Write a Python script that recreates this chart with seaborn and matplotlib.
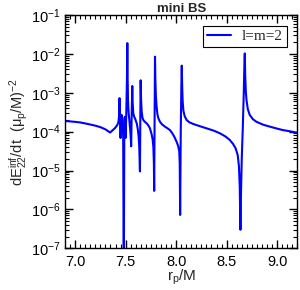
import math

import matplotlib
matplotlib.use("Agg")
import matplotlib.pyplot as plt
import matplotlib.ticker as mticker
import pandas as pd
import seaborn as sns

# orbital radius r_p/M and flux dE_22/dt
r_p = [
    6.901, 6.950, 7.000, 7.050, 7.100, 7.150, 7.200, 7.250, 7.300, 7.346,
    7.370, 7.395, 7.415, 7.428, 7.435, 7.440, 7.445, 7.450, 7.455, 7.461,
    7.468, 7.476, 7.482, 7.487, 7.492, 7.496, 7.500, 7.506, 7.513, 7.517,
    7.520, 7.524, 7.530, 7.537, 7.546, 7.551, 7.555, 7.560, 7.566, 7.569,
    7.576, 7.585, 7.593, 7.610, 7.620, 7.628, 7.635, 7.642, 7.646, 7.649,
    7.653, 7.659, 7.667, 7.675, 7.690, 7.708, 7.725, 7.741, 7.758, 7.768,
    7.775, 7.780, 7.783, 7.787, 7.791, 7.795, 7.800, 7.807, 7.815, 7.825,
    7.840, 7.860, 7.889, 7.915, 7.939, 7.960, 7.980, 8.005, 8.020, 8.031,
    8.036, 8.040, 8.046, 8.052, 8.056, 8.060, 8.065, 8.072, 8.085, 8.104,
    8.130, 8.169, 8.230, 8.301, 8.370, 8.433, 8.490, 8.532, 8.565, 8.590,
    8.610, 8.622, 8.630, 8.637, 8.643, 8.650, 8.660, 8.670, 8.675, 8.680,
    8.684, 8.690, 8.697, 8.710, 8.729, 8.760, 8.795, 8.860, 8.927, 9.000,
    9.058, 9.130, 9.197,
]
flux = [
    1.88e-4, 1.84e-4, 1.79e-4, 1.73e-4, 1.63e-4, 1.53e-4, 1.43e-4, 1.31e-4, 1.15e-4, 9.5e-5,
    1.08e-4, 1.24e-4, 1.45e-4, 1.7e-4, 2.5e-4, 7.3e-4, 1.6e-4, 6.9e-5, 1.5e-4, 2.7e-4,
    2.0e-4, 8.0e-5, 1.0e-8, 1.0e-4, 2.4e-4, 1.4e-4, 6.9e-5, 2.5e-4, 2.0e-3, 1.9e-2,
    2.5e-3, 6.0e-4, 3.0e-4, 2.0e-4, 1.1e-4, 7.0e-5, 4.2e-5, 2.5e-4, 1.5e-3, 6.0e-4,
    3.0e-4, 2.4e-4, 2.2e-4, 1.64e-4, 1.2e-4, 8.0e-5, 4.1e-5, 9.5e-6, 3.0e-4, 2.1e-3,
    7.0e-4, 3.3e-4, 2.3e-4, 2.0e-4, 1.8e-4, 1.64e-4, 1.45e-4, 1.22e-4, 8.5e-5, 6.2e-5,
    4.0e-5, 1.5e-5, 3.0e-6, 2.0e-4, 8.5e-3, 2.0e-3, 8.0e-4, 4.4e-4, 2.8e-4, 2.2e-4,
    1.8e-4, 1.55e-4, 1.35e-4, 1.22e-4, 1.1e-4, 9.3e-5, 7.6e-5, 5.5e-5, 4.3e-5, 3.2e-5,
    1.5e-5, 7.2e-7, 1.0e-4, 1.5e-3, 5.0e-3, 1.5e-3, 6.0e-4, 3.5e-4, 2.5e-4, 2.0e-4,
    1.75e-4, 1.58e-4, 1.4e-4, 1.22e-4, 1.07e-4, 9.1e-5, 7.5e-5, 6.1e-5, 4.8e-5, 3.7e-5,
    2.5e-5, 1.3e-5, 4.0e-6, 3.0e-7, 3.0e-6, 2.0e-5, 1.2e-4, 1.0e-3, 4.0e-3, 1.03e-2,
    3.0e-3, 1.1e-3, 6.5e-4, 3.8e-4, 2.7e-4, 2.1e-4, 1.8e-4, 1.52e-4, 1.35e-4, 1.2e-4,
    1.1e-4, 1.02e-4, 9.4e-5,
]
x_ticks = [7.0, 7.5, 8.0, 8.5, 9.0]
x_tick_labels = ["7.0", "7.5", "8.0", "8.5", "9.0"]
series_label = "l=m=2"
title = "mini BS"

sns.set_style("ticks")
plt.rcParams["font.family"] = ["Liberation Sans", "DejaVu Sans"]
plt.rcParams["mathtext.fontset"] = "custom"
plt.rcParams["mathtext.rm"] = "Liberation Sans"
plt.rcParams["mathtext.it"] = "Liberation Sans"
plt.rcParams["mathtext.default"] = "regular"

frame = pd.DataFrame({"r": r_p, "flux": flux, "series": series_label})

fig = plt.figure(figsize=(3.0, 2.9), dpi=100)
ax = fig.add_axes([0.2167, 0.1438, 0.7743, 0.8042])

sns.lineplot(data=frame, x="r", y="flux", hue="series", palette=["#0000ff"],
             sort=False, estimator=None, linewidth=1.5, ax=ax)

ax.set_yscale("log")
ax.set_xlim(6.9, 9.2)
ax.set_ylim(1e-7, 1e-1)
ax.set_xticks(x_ticks)
ax.set_xticklabels(x_tick_labels)
ax.xaxis.set_minor_locator(mticker.MultipleLocator(0.05))
ax.yaxis.set_major_locator(mticker.LogLocator(base=10, numticks=10))
ax.yaxis.set_minor_locator(mticker.LogLocator(base=10, subs=range(2, 10), numticks=20))
ax.yaxis.set_minor_formatter(mticker.NullFormatter())
ax.yaxis.set_major_formatter(
    mticker.FuncFormatter(lambda v, _: f"$10^{{{int(round(math.log10(v)))}}}$"))

ax.tick_params(which="both", direction="in", top=True, right=True, colors="black",
               labelsize=10.5)
ax.tick_params(axis="x", pad=5)
ax.tick_params(axis="y", pad=3)
ax.tick_params(which="major", length=6, width=1)
ax.tick_params(which="minor", length=3, width=0.8)
for spine in ax.spines.values():
    spine.set_color("black")
    spine.set_linewidth(1)

ax.set_xlabel("r$_p$/M", fontsize=11, labelpad=-1)
ax.set_ylabel("dE$_{22}^{inf}$/dt  ($\\mu_p$/M)$^{-2}$", fontsize=10.5, labelpad=1)
ax.set_title(title, fontsize=9.5, fontweight="bold", pad=2)

leg = ax.legend(loc="upper right", frameon=True, fancybox=False, handlelength=1.6,
                borderpad=0.25, handletextpad=0.7, borderaxespad=0.7,
                prop={"family": "Liberation Serif", "size": 11})
leg.get_frame().set_edgecolor("black")
leg.get_frame().set_linewidth(0.8)
leg.get_frame().set_alpha(1)

fig.savefig("out.png", dpi=100)
